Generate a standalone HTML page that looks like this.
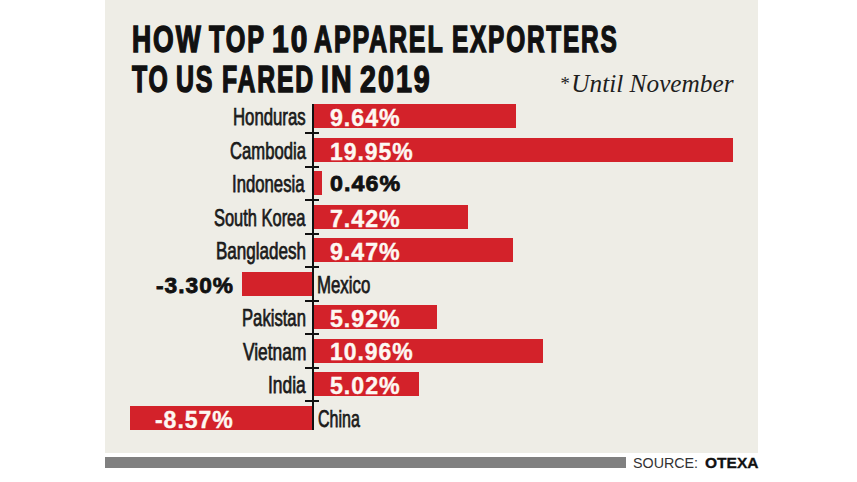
<!DOCTYPE html>
<html>
<head>
<meta charset="utf-8">
<style>
html,body{margin:0;padding:0;background:#fff;}
body{width:857px;height:482px;position:relative;overflow:hidden;font-family:"Liberation Sans",sans-serif;}
#panel{position:absolute;left:105px;top:0;width:652.5px;height:452.5px;background:#eeede6;}
.t{position:absolute;white-space:pre;line-height:1;}
.title{font-weight:700;font-size:36.2px;color:#111;transform-origin:0 0;-webkit-text-stroke:1.5px #111;letter-spacing:2.6px;}
.note{font-family:"Liberation Serif",serif;font-style:italic;font-size:25.3px;line-height:1;color:#1e1e1e;}
.bar{position:absolute;background:#d3222a;height:24px;}
.axis{position:absolute;left:311.7px;top:104px;width:2px;height:325.5px;background:#111;}
.tick{position:absolute;left:304.5px;width:14.5px;height:2px;background:#111;}
.lab{font-size:23.2px;color:#1a1a1a;transform-origin:0 0;-webkit-text-stroke:0.75px #1a1a1a;}
.val{font-weight:700;font-size:24px;color:#fdf8f2;transform-origin:0 0;letter-spacing:1px;-webkit-text-stroke:0.4px #fdf8f2;}
.valb{color:#111;-webkit-text-stroke:0.8px #111;font-size:22.3px;}
#gbar{position:absolute;left:105px;top:457px;width:521px;height:11px;background:#808080;}
.src{font-size:14.5px;color:#333;top:455.5px;transform-origin:0 0;transform:scaleX(0.985);}
</style>
</head>
<body>
<div id="panel"></div>
<div class="t title" style="left:131.83px;top:22.00px;transform:scaleX(0.7337)">HOW</div>
<div class="t title" style="left:209.00px;top:22.00px;transform:scaleX(0.6962)">TOP</div>
<div class="t title" style="left:271.66px;top:22.00px;transform:scaleX(0.8225)">10</div>
<div class="t title" style="left:314.10px;top:22.00px;transform:scaleX(0.6925)">APPAREL</div>
<div class="t title" style="left:451.85px;top:22.00px;transform:scaleX(0.6751)">EXPORTERS</div>
<div class="t title" style="left:131.50px;top:61.80px;transform:scaleX(0.6843)">TO</div>
<div class="t title" style="left:175.91px;top:61.80px;transform:scaleX(0.6902)">US</div>
<div class="t title" style="left:221.63px;top:61.80px;transform:scaleX(0.6846)">FARED</div>
<div class="t title" style="left:320.62px;top:61.80px;transform:scaleX(0.7886)">IN</div>
<div class="t title" style="left:359.71px;top:61.80px;transform:scaleX(0.7897)">2019</div>
<div class="t note" style="left:559.6px;top:74.2px;font-size:19px;line-height:19px">*</div>
<div class="t note" style="left:571.3px;top:71.4px">Until November</div>

<div class="axis"></div>
<div class="tick" style="top:132px"></div>
<div class="tick" style="top:165.5px"></div>
<div class="tick" style="top:199px"></div>
<div class="tick" style="top:232.5px"></div>
<div class="tick" style="top:266px"></div>
<div class="tick" style="top:299.5px"></div>
<div class="tick" style="top:333px"></div>
<div class="tick" style="top:366.5px"></div>
<div class="tick" style="top:400px"></div>

<div class="bar" style="left:314px;top:104px;width:202px"></div>
<div class="bar" style="left:314px;top:137.5px;width:419px"></div>
<div class="bar" style="left:314px;top:171px;width:8px"></div>
<div class="bar" style="left:314px;top:204.5px;width:154px"></div>
<div class="bar" style="left:314px;top:238px;width:198.5px"></div>
<div class="bar" style="left:242px;top:271.5px;width:70px"></div>
<div class="bar" style="left:314px;top:305px;width:123px"></div>
<div class="bar" style="left:314px;top:338.5px;width:229px"></div>
<div class="bar" style="left:314px;top:372px;width:105px"></div>
<div class="bar" style="left:130px;top:405.5px;width:182px"></div>

<div class="t lab" style="left:233.28px;top:106.03px;transform:scaleX(0.7226)">Honduras</div>
<div class="t lab" style="left:229.94px;top:139.57px;transform:scaleX(0.7182)">Cambodia</div>
<div class="t lab" style="left:232.38px;top:173.10px;transform:scaleX(0.7210)">Indonesia</div>
<div class="t lab" style="left:213.65px;top:206.63px;transform:scaleX(0.7089)">South Korea</div>
<div class="t lab" style="left:216.45px;top:240.16px;transform:scaleX(0.7349)">Bangladesh</div>
<div class="t lab" style="left:317.47px;top:273.70px;transform:scaleX(0.7255)">Mexico</div>
<div class="t lab" style="left:242.49px;top:307.23px;transform:scaleX(0.7185)">Pakistan</div>
<div class="t lab" style="left:243.10px;top:340.76px;transform:scaleX(0.7483)">Vietnam</div>
<div class="t lab" style="left:268.32px;top:374.29px;transform:scaleX(0.7486)">India</div>
<div class="t lab" style="left:317.57px;top:407.83px;transform:scaleX(0.6908)">China</div>

<div class="t val" style="left:330.00px;top:106.25px;transform:scaleX(0.966)">9.64%</div>
<div class="t val" style="left:330.01px;top:139.70px;transform:scaleX(0.956)">19.95%</div>
<div class="t val valb" style="left:330.00px;top:173.2px;transform:scaleX(1.042)">0.46%</div>
<div class="t val" style="left:330.00px;top:206.60px;transform:scaleX(0.966)">7.42%</div>
<div class="t val" style="left:330.00px;top:240.05px;transform:scaleX(0.966)">9.47%</div>
<div class="t val valb" style="left:156.1px;top:274.5px;transform:scaleX(1.018)">-3.30%</div>
<div class="t val" style="left:330.00px;top:306.95px;transform:scaleX(0.966)">5.92%</div>
<div class="t val" style="left:330.01px;top:340.40px;transform:scaleX(0.956)">10.96%</div>
<div class="t val" style="left:330.00px;top:373.85px;transform:scaleX(0.966)">5.02%</div>
<div class="t val" style="left:155.31px;top:407.80px;transform:scaleX(0.959)">-8.57%</div>

<div id="gbar"></div>
<div class="t src" style="left:633px">SOURCE:</div>
<div class="t src" style="left:704.5px;font-weight:700;transform:scaleX(1.07);-webkit-text-stroke:0.3px #111;color:#111">OTEXA</div>
</body>
</html>
